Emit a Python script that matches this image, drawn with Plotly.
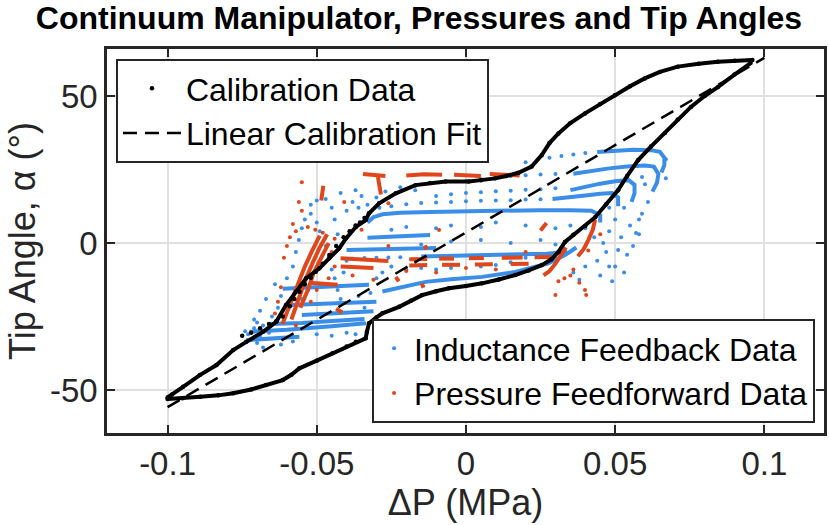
import plotly.graph_objects as go

# ---------------- data ----------------
# Calibration data, lower branch (pressure increasing) then rising to the tip
cal_lo_x = [-0.100, -0.095, -0.089, -0.083, -0.078, -0.072, -0.067, -0.0614, -0.0585, -0.0558,
            -0.050, -0.0447, -0.040, -0.0369, -0.0336, -0.0332, -0.0325, -0.030, -0.028, -0.0224,
            -0.0185, -0.0147, -0.010, -0.0057, 0.000, 0.0054, 0.011, 0.0165, 0.021, 0.0254,
            0.0287, 0.031, 0.0332, 0.036, 0.040, 0.0433, 0.047, 0.051, 0.054, 0.0577,
            0.062, 0.0667, 0.071, 0.0754, 0.080, 0.0844, 0.090, 0.0954]
cal_lo_y = [-53.0, -52.8, -52.3, -51.8, -51.1, -49.8, -48.3, -46.6, -44.8, -42.6,
            -40.0, -37.5, -35.2, -33.6, -32.4, -30.2, -27.3, -25.3, -23.9, -21.7,
            -19.6, -17.7, -16.4, -15.4, -14.6, -13.7, -12.4, -10.9, -9.3, -7.5,
            -5.5, -3.0, 0.4, 2.8, 5.8, 8.8, 13.2, 18.0, 22.8, 28.2,
            32.8, 37.4, 42.0, 46.3, 50.0, 53.0, 57.3, 61.2]
# Calibration data, upper branch (pressure decreasing) from the tip back to the start
cal_up_x = [0.0960, 0.090, 0.0844, 0.078, 0.071, 0.065, 0.0599, 0.055, 0.0499, 0.045,
            0.0399, 0.035, 0.031, 0.028, 0.0254, 0.022, 0.0176, 0.0135, 0.0098, 0.005,
            0.0009, -0.0068, -0.012, -0.0169, -0.0235, -0.0291, -0.0325, -0.0336, -0.0369, -0.0402,
            -0.0425, -0.0458, -0.0491, -0.0536, -0.057, -0.0603, -0.0636, -0.068, -0.0736, -0.078,
            -0.0836, -0.0892, -0.0948, -0.0985, -0.1000]
cal_up_y = [62.3, 62.0, 61.7, 61.0, 60.0, 58.2, 56.0, 53.3, 50.3, 47.3,
            44.1, 40.8, 37.3, 34.0, 29.9, 26.0, 23.9, 22.8, 22.0, 21.4,
            20.9, 20.9, 20.4, 19.7, 16.9, 13.5, 10.1, 7.8, 5.5, 1.6,
            -1.8, -5.2, -8.6, -12.0, -16.6, -21.1, -26.8, -30.2, -33.6, -36.4,
            -41.5, -44.9, -48.9, -51.5, -52.5]
# Calibration data, inner diagonal scatter
cal_in_x = [-0.075, -0.072, -0.069, -0.066, -0.0635, -0.0614, -0.059, -0.0575, -0.0558, -0.054,
            -0.052, -0.0503, -0.048, -0.0458, -0.0435, -0.041, -0.039, -0.037, -0.0355, -0.034]
cal_in_y = [-31.5, -30.5, -29.0, -27.5, -26.5, -25.0, -21.5, -19.0, -16.6, -14.0,
            -11.8, -9.8, -7.0, -4.1, -1.0, 2.0, 4.0, 6.0, 7.0, 8.5]

# Linear calibration fit end points
fit_x = [-0.1, 0.1]
fit_y = [-55.8, 63.0]

# Inductance feedback data: dense streaks (None separates streaks)
ind_st_x = [0.044, 0.050, 0.056, 0.062, 0.065, 0.0665, 0.0665, 0.0655, None,
            0.036, 0.042, 0.048, 0.054, 0.060, 0.063, 0.0645, 0.064, 0.0625, None,
            0.035, 0.040, 0.045, 0.050, 0.0545, 0.0565, 0.0565, 0.0555, None,
            0.029, 0.035, 0.040, 0.045, 0.049, 0.051, 0.051, None,
            -0.033, -0.031, -0.028, -0.022, -0.012, 0.000, 0.012, 0.025, 0.035, 0.042, 0.045, 0.045, None,
            -0.033, -0.025, -0.018, -0.012, None,
            -0.040, -0.030, -0.020, -0.010, None,
            -0.015, 0.000, 0.015, 0.027, 0.034, None,
            -0.028, -0.020, -0.0135, -0.005, 0.0054, 0.0165, 0.0276, 0.0332, 0.037, None,
            -0.0614, -0.050, -0.040, -0.0325, None,
            -0.059, -0.045, -0.035, -0.030, None,
            -0.0725, -0.060, -0.045, -0.0335, None,
            -0.066, -0.055, -0.045, -0.034, None,
            -0.0736, -0.065, -0.0558, None,
            -0.055, -0.045, -0.035, -0.031]
ind_st_y = [31.0, 31.5, 31.7, 31.6, 31.0, 29.0, 26.5, 24.0, None,
            23.6, 24.6, 25.4, 26.0, 26.4, 26.0, 23.5, 20.5, 17.5, None,
            18.0, 19.2, 20.2, 21.0, 21.4, 19.8, 17.0, 14.0, None,
            15.0, 15.5, 16.2, 16.8, 17.0, 15.5, 12.5, None,
            7.0, 8.8, 9.8, 10.3, 10.6, 10.9, 11.1, 11.2, 11.2, 11.0, 9.5, 7.0, None,
            1.8, 2.3, 2.5, 2.7, None,
            -2.4, -2.1, -1.9, -1.7, None,
            -4.6, -4.3, -4.0, -3.6, -3.0, None,
            -16.5, -14.5, -13.2, -12.3, -11.5, -9.8, -6.9, -4.1, -1.5, None,
            -15.5, -14.8, -14.5, -14.2, None,
            -21.1, -20.5, -20.2, -20.0, None,
            -30.2, -29.5, -28.3, -27.3, None,
            -27.5, -27.2, -26.5, -25.8, None,
            -33.0, -32.5, -31.9, None,
            -24.5, -24.0, -23.5, -23.2]

# Inductance feedback data: scattered points
ind_x = [0.020, 0.024, 0.028, 0.032, 0.036, 0.040,
         0.000, 0.005, 0.010, 0.015, 0.020, 0.025, 0.030,
         -0.010, -0.005, 0.000, 0.005, 0.010, 0.015, 0.020, 0.025, 0.030,
         -0.025, -0.020, -0.015, -0.010, -0.005, 0.000, 0.005, 0.010, 0.015, 0.020, 0.025,
         -0.030, -0.027, -0.022, -0.017, -0.033, -0.029,
         0.040, 0.043, 0.046, 0.048, 0.050, 0.052, 0.055, 0.056, 0.058, 0.047, 0.044, 0.050,
         0.053, 0.054, 0.040, 0.036, 0.038, 0.045, 0.049, 0.059, 0.061, 0.058, 0.053, 0.048,
         0.060, 0.059, 0.067, 0.067, 0.051, 0.057, 0.048,
         -0.062, -0.060, -0.058, -0.057, -0.056, -0.055, -0.054, -0.052, -0.050, -0.049, -0.047,
         -0.046, -0.045, -0.044, -0.043, -0.042, -0.041, -0.040, -0.043, -0.044, -0.045, -0.047,
         -0.050, -0.052, -0.040, -0.038, -0.036, -0.035, -0.037, -0.042, -0.053, -0.055, -0.063,
         -0.065, -0.067, -0.064, -0.069, -0.071, -0.070, -0.068, -0.062, -0.058, -0.050, -0.045,
         -0.040, -0.037, -0.035, -0.034, -0.036, -0.032, -0.030, -0.028, -0.025, -0.020, -0.015,
         -0.010, -0.005, 0.005, 0.010, 0.015, 0.020,
         -0.010, -0.005, 0.005, 0.010, 0.020, 0.030, 0.035, -0.020, -0.025, -0.015, -0.005,
         0.005, 0.015, 0.025, 0.030,
         -0.038, -0.034, -0.030, -0.026, -0.022,
         -0.073, -0.071, -0.069, -0.072, -0.068, -0.074, -0.070, -0.066]
ind_y = [27.5, 28.4, 29.0, 29.6, 30.1, 30.6,
         21.0, 21.8, 22.3, 22.7, 23.1, 23.3, 23.5,
         16.0, 16.6, 17.0, 17.3, 17.6, 17.8, 18.1, 18.3, 18.6,
         12.5, 13.2, 13.6, 13.8, 14.0, 14.2, 14.4, 14.5, 14.6, 14.8, 14.9,
         15.5, 17.5, 19.0, 18.0, 13.0, 12.0,
         5.0, 2.0, 0.0, 4.0, 8.0, 2.0, 6.0, -1.0, 3.0, -3.0, -6.0, -8.0,
         -10.0, -4.0, -8.0, -10.0, -12.5, -11.0, -13.0, 10.0, 14.0, 8.0, 12.0, 12.0,
         20.0, 22.5, 22.0, 28.5, -2.4, 3.4, -8.0,
         -18.0, -12.0, -8.0, -3.0, 1.0, 5.0, 8.0, 10.0, 7.0, 4.0, -1.0,
         -5.0, -9.0, -12.0, -16.0, -19.0, -10.0, -6.0, 3.0, 8.0, 12.0, 15.0,
         14.5, 13.0, 11.0, 14.0, 12.0, 16.0, 18.0, 17.0, -16.0, -19.0, -22.0,
         -25.0, -19.0, -14.0, -23.0, -26.0, -34.0, -35.5, -34.5, -33.5, -31.0, -31.5,
         -30.5, -31.0, -26.0, -22.0, -18.0, -17.0, -12.0, -10.0, -8.0, -9.0, -8.5,
         -9.0, -8.5, -8.0, -7.5, -6.5, -5.0,
         5.0, 6.0, 5.5, 7.0, 6.0, 5.0, 6.0, 5.5, 4.5, -0.5, 0.5,
         1.0, 0.0, 1.0, -0.5,
         -5.3, -5.1, -5.0, -4.9, -4.8,
         -31.0, -29.0, -31.5, -33.0, -28.0, -30.0, -27.0, -30.5]

# Pressure feedforward data: dense streaks (None separates streaks)
pf_st_x = [-0.0345, -0.031, -0.027, None, -0.0295, -0.029, -0.0285, None,
           -0.020, -0.014, -0.008, None, -0.004, 0.001, 0.005, None, 0.008, 0.013, 0.018, None,
           -0.0485, -0.048, -0.0478, None,
           -0.0615, -0.059, -0.0565, -0.054, -0.0515, -0.049, None,
           -0.0585, -0.056, -0.054, -0.0515, -0.049, -0.0465, None,
           -0.0555, -0.053, -0.051, -0.0485, -0.046, None,
           -0.0525, -0.047, -0.043, None,
           -0.042, -0.036, -0.030, -0.026, None,
           -0.042, -0.036, -0.031, None,
           -0.019, -0.013, None, -0.009, -0.004, None, 0.001, 0.006, None, 0.012, 0.019, None,
           0.023, 0.029, None,
           -0.019, -0.013, None, -0.008, -0.002, None, 0.003, 0.009, None, 0.015, 0.021, None,
           0.0433, 0.0425, 0.041, 0.0395, 0.0375, None,
           0.0335, 0.032, 0.030, 0.028, 0.026, None,
           -0.0235, -0.0225, None, -0.0148, -0.0142, None, -0.0435, -0.0415, None,
           -0.0138, -0.0132, None, 0.025, 0.027]
pf_st_y = [23.5, 23.3, 22.8, None, 22.5, 19.5, 16.5, None,
           23.0, 23.4, 23.2, None, 23.2, 23.0, 22.8, None, 23.5, 23.3, 23.0, None,
           14.5, 17.0, 19.5, None,
           -27.5, -21.0, -14.0, -8.0, -2.5, 2.5, None,
           -26.0, -19.0, -13.0, -7.0, -1.5, 3.0, None,
           -22.0, -16.0, -10.0, -5.0, 0.0, None,
           -13.5, -14.0, -14.2, None,
           -5.2, -5.6, -5.9, -6.1, None,
           -8.0, -8.3, -8.5, None,
           -5.5, -5.4, None, -5.3, -5.3, None, -5.2, -5.1, None, -5.0, -4.9, None,
           -4.8, -4.7, None,
           -7.6, -7.5, None, -7.4, -7.4, None, -7.3, -7.2, None, -7.1, -7.0, None,
           8.0, 4.5, 1.0, -2.0, -4.5, None,
           -1.5, -4.0, -7.0, -9.5, -11.0, None,
           -11.5, -13.0, None, -13.8, -15.2, None, -22.3, -23.6, None,
           -0.8, -2.2, None, 4.3, 6.8]

# Pressure feedforward data: scattered points
pf_x = [-0.055, -0.0408, -0.0505, -0.048, -0.057, -0.059, -0.060, -0.061, -0.058, -0.053,
        -0.045, -0.044, -0.035, -0.026, -0.009, 0.0399, 0.0403, 0.030, 0.033, 0.031,
        0.036, 0.035, -0.063, -0.064, -0.062, -0.057, -0.044, -0.038, -0.031, -0.020,
        -0.010, 0.000, 0.010, 0.020, -0.026, -0.052, -0.050, -0.046, -0.055, -0.056,
        0.038, 0.041, 0.045]
pf_y = [20.7, 14.0, 4.5, 3.5, 4.0, 2.0, -1.0, -5.0, 6.5, 5.5,
        -3.0, 1.5, 4.5, -1.0, 4.4, -16.0, -17.7, -17.7, -12.0, -13.0,
        -9.0, -11.0, -20.0, -24.0, -15.0, -28.0, -8.0, -11.0, -12.5, -9.5,
        -10.0, -8.5, -9.0, -3.0, 13.5, -20.0, -16.0, -12.0, 11.0, 14.0,
        -13.5, -2.5, 3.0]

# Axis ticks
x_ticks = [-0.1, -0.05, 0, 0.05, 0.1]
x_tick_text = ["-0.1", "-0.05", "0", "0.05", "0.1"]
y_ticks = [-50, 0, 50]
y_tick_text = ["-50", "0", "50"]

# ---------------- styling ----------------
BLUE = "#3a8ee8"
RED = "#e0461c"
BLACK = "#000000"
AX = "#262626"
FONT = "Liberation Sans, Arial, Helvetica, sans-serif"

fig = go.Figure()

# Inductance feedback
fig.add_trace(go.Scatter(x=ind_x, y=ind_y, mode="markers", name="Inductance Feedback Data",
                         marker=dict(color=BLUE, size=4), legend="legend2"))
fig.add_trace(go.Scatter(x=ind_st_x, y=ind_st_y, mode="lines", showlegend=False,
                         line=dict(color=BLUE, width=4), connectgaps=False, hoverinfo="skip"))
# Pressure feedforward
fig.add_trace(go.Scatter(x=pf_x, y=pf_y, mode="markers", name="Pressure Feedforward Data",
                         marker=dict(color=RED, size=4), legend="legend2"))
fig.add_trace(go.Scatter(x=pf_st_x, y=pf_st_y, mode="lines", showlegend=False,
                         line=dict(color=RED, width=4), connectgaps=False, hoverinfo="skip"))
# Calibration
fig.add_trace(go.Scatter(x=cal_lo_x + cal_up_x + cal_in_x, y=cal_lo_y + cal_up_y + cal_in_y,
                         mode="markers", name="Calibration Data",
                         marker=dict(color=BLACK, size=4.5), legend="legend"))
fig.add_trace(go.Scatter(x=cal_lo_x, y=cal_lo_y, mode="lines", showlegend=False,
                         line=dict(color=BLACK, width=4), hoverinfo="skip"))
fig.add_trace(go.Scatter(x=cal_up_x, y=cal_up_y, mode="lines", showlegend=False,
                         line=dict(color=BLACK, width=4), hoverinfo="skip"))
# Fit
fig.add_trace(go.Scatter(x=fit_x, y=fit_y, mode="lines", name="Linear Calibration Fit",
                         line=dict(color=BLACK, width=2.5, dash="14px,8px"), legend="legend"))

axis_common = dict(showgrid=True, gridcolor="#e0e0e0", gridwidth=2,
                   showline=True, linecolor=AX, linewidth=2.5, mirror="ticks",
                   ticks="inside", ticklen=8, tickwidth=2, tickcolor=AX,
                   zeroline=False, tickfont=dict(family=FONT, size=33, color=AX))

fig.update_layout(
    width=829, height=525,
    margin=dict(l=107, r=2, t=49, b=92),
    paper_bgcolor="white", plot_bgcolor="white",
    title=dict(text="Continuum Manipulator, Pressures and Tip Angles",
               font=dict(family=FONT, size=32, color="black", weight="bold"),
               x=0.5054, xanchor="center", xref="container",
               y=0.967, yanchor="middle", yref="container"),
    xaxis=dict(range=[-0.1203, 0.12], tickvals=x_ticks, ticktext=x_tick_text,
               title=dict(text="ΔP (MPa)", font=dict(family=FONT, size=36, color=AX), standoff=6),
               **axis_common),
    yaxis=dict(range=[-64.6, 66.0], tickvals=y_ticks, ticktext=y_tick_text,
               title=dict(text="Tip Angle, α (°)", font=dict(family=FONT, size=36, color=AX), standoff=4),
               **axis_common),
    legend=dict(x=0.0125, y=0.974, xanchor="left", yanchor="top",
                bgcolor="white", bordercolor=AX, borderwidth=2,
                font=dict(family=FONT, size=32, color="black"), itemwidth=58,
                traceorder="normal"),
    legend2=dict(x=0.9875, y=0.026, xanchor="right", yanchor="bottom",
                 bgcolor="white", bordercolor=AX, borderwidth=2,
                 font=dict(family=FONT, size=32, color="black"), itemwidth=30,
                 traceorder="normal"),
    showlegend=True,
)

fig.write_html("out.html", config={"displayModeBar": False},
               post_script="document.body.style.margin='0';document.body.style.overflow='hidden';")
